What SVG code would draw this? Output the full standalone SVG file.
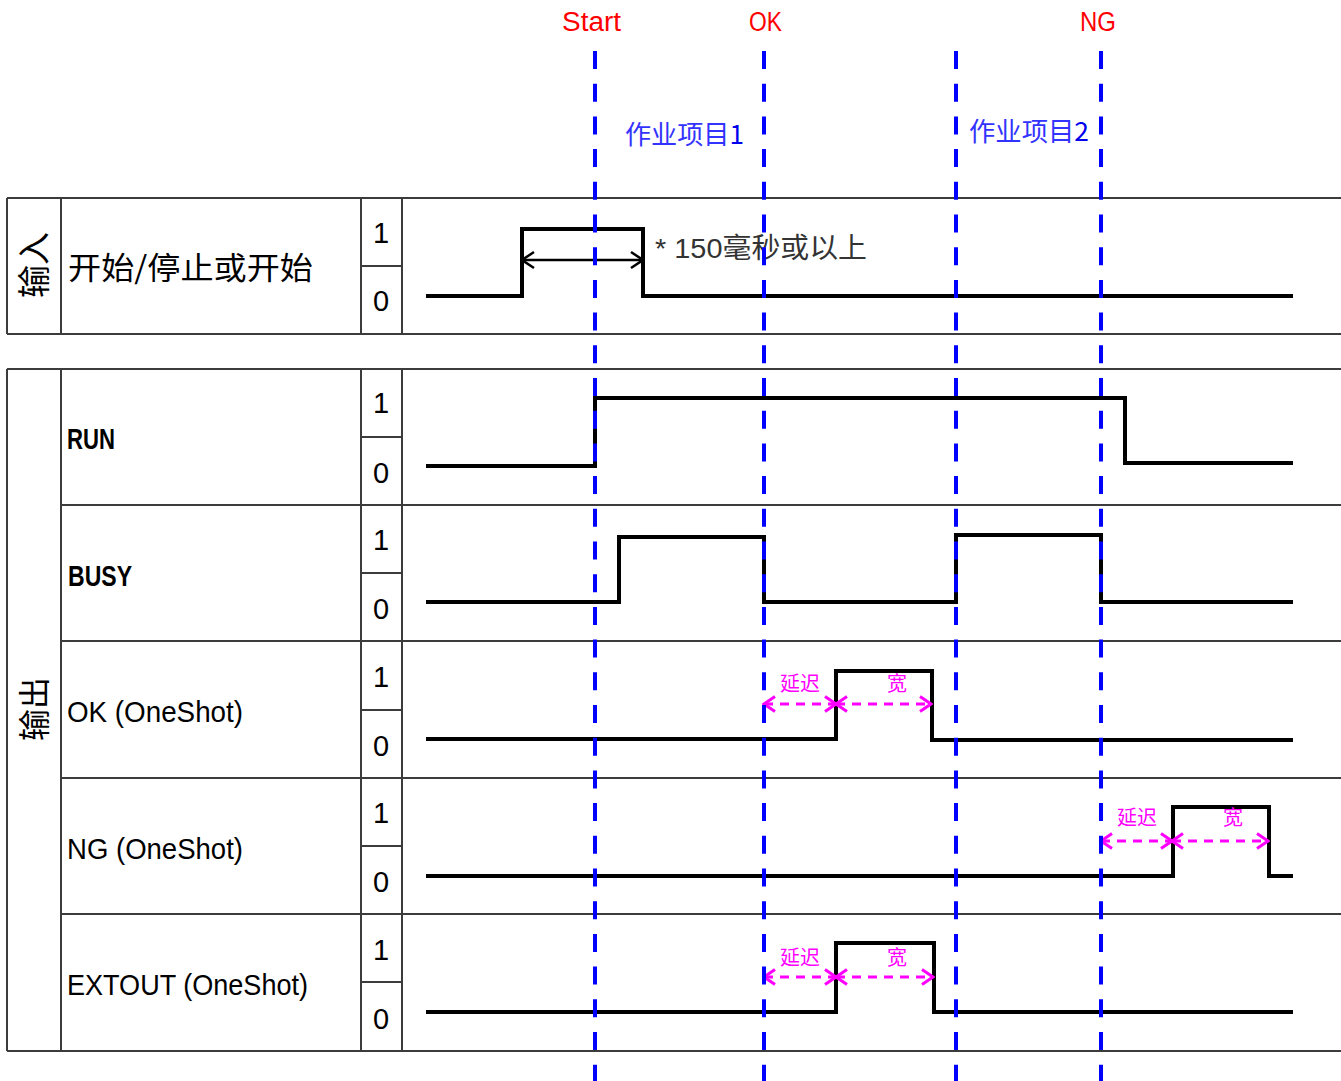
<svg xmlns="http://www.w3.org/2000/svg" width="1341" height="1081" viewBox="0 0 1341 1081">
<style>
.grid{stroke:#3c3c3c;stroke-width:2;fill:none}
.wave{stroke:#000;stroke-width:4;fill:none;stroke-linejoin:miter}
.mark{stroke:#0000ff;stroke-width:4;stroke-dasharray:18 14.7;fill:none}
.dim{stroke:#ff00ff;stroke-width:3;stroke-dasharray:9 7;fill:none;marker-start:url(#mg);marker-end:url(#mg)}
.lbl{font-family:"Liberation Sans","Noto Sans CJK SC",sans-serif;fill:#000}
.cjk{font-family:"Noto Sans CJK SC",sans-serif}
.dig{font-family:"Liberation Sans",sans-serif;font-size:29px;fill:#000;text-anchor:middle}
.red{font-family:"Liberation Sans",sans-serif;font-size:27px;fill:#ff0000}
.task{font-family:"Noto Sans CJK SC",sans-serif;font-size:26px;fill:#3333ff}
.mg{font-family:"Noto Sans CJK SC",sans-serif;font-size:20px;fill:#ff00ff;text-anchor:middle}
</style>
<defs>
<marker id="mg" markerUnits="userSpaceOnUse" viewBox="-14 -10 16 20" refX="0" refY="0" markerWidth="16" markerHeight="20" orient="auto-start-reverse">
<path d="M-11,-7.5 L0,0 L-11,7.5" fill="none" stroke="#ff00ff" stroke-width="3" stroke-dasharray="none"/>
</marker>
<marker id="mb" markerUnits="userSpaceOnUse" viewBox="-14 -10 16 20" refX="0" refY="0" markerWidth="16" markerHeight="20" orient="auto-start-reverse">
<path d="M-12,-8 L0,0 L-12,8" fill="none" stroke="#000" stroke-width="2.5"/>
</marker>
</defs>
<rect width="1341" height="1081" fill="#fff"/>

<g id="top-labels">
<text class="red" x="562" y="31" textLength="59" lengthAdjust="spacingAndGlyphs">Start</text>
<text class="red" x="749" y="31" textLength="33" lengthAdjust="spacingAndGlyphs">OK</text>
<text class="red" x="1080" y="31" textLength="36" lengthAdjust="spacingAndGlyphs">NG</text>
<text class="task" x="625" y="144" textLength="119" lengthAdjust="spacingAndGlyphs">作业项目<tspan fill="#0000ee">1</tspan></text>
<text class="task" x="969" y="141" textLength="120" lengthAdjust="spacingAndGlyphs">作业项目<tspan fill="#0000ee">2</tspan></text>
</g>

<g id="input-table">
<path class="grid" d="M7,198 H1341 M7,334 H1341 M7,198 V334 M61,198 V334 M361,198 V334 M402,198 V334 M361,266 H402"/>
<text class="lbl cjk" font-size="33" transform="translate(32,265) rotate(-90)" text-anchor="middle" dominant-baseline="central">输入</text>
<text class="lbl cjk" font-size="31" x="68" y="279" textLength="245" lengthAdjust="spacingAndGlyphs">开始/停止或开始</text>
<text class="dig" x="381" y="243">1</text>
<text class="dig" x="381" y="311">0</text>
</g>

<g id="output-table">
<path class="grid" d="M7,369 H1341 M7,1051 H1341 M61,505 H1341 M61,641 H1341 M61,778 H1341 M61,914 H1341 M7,369 V1051 M61,369 V1051 M361,369 V1051 M402,369 V1051 M361,437 H402 M361,573 H402 M361,710 H402 M361,846 H402 M361,982 H402"/>
<text class="lbl cjk" font-size="32" transform="translate(32,709) rotate(-90)" text-anchor="middle" dominant-baseline="central">输出</text>
</g>

<g id="row-run">
<text class="lbl" font-size="29" font-weight="bold" x="67" y="449" textLength="48" lengthAdjust="spacingAndGlyphs">RUN</text>
<text class="dig" x="381" y="413">1</text>
<text class="dig" x="381" y="483">0</text>
</g>
<g id="row-busy">
<text class="lbl" font-size="29" font-weight="bold" x="68" y="586" textLength="64" lengthAdjust="spacingAndGlyphs">BUSY</text>
<text class="dig" x="381" y="550">1</text>
<text class="dig" x="381" y="619">0</text>
</g>
<g id="row-ok">
<text class="lbl" font-size="29" x="67" y="722" textLength="176" lengthAdjust="spacingAndGlyphs">OK (OneShot)</text>
<text class="dig" x="381" y="687">1</text>
<text class="dig" x="381" y="756">0</text>
</g>
<g id="row-ng">
<text class="lbl" font-size="29" x="67" y="859" textLength="176" lengthAdjust="spacingAndGlyphs">NG (OneShot)</text>
<text class="dig" x="381" y="823">1</text>
<text class="dig" x="381" y="892">0</text>
</g>
<g id="row-extout">
<text class="lbl" font-size="29" x="67" y="995" textLength="241" lengthAdjust="spacingAndGlyphs">EXTOUT (OneShot)</text>
<text class="dig" x="381" y="960">1</text>
<text class="dig" x="381" y="1029">0</text>
</g>

<g id="waveforms">
<path class="wave" d="M426,296 H522 V229 H643 V296 H1293"/>
<path d="M522,260 H643" fill="none" stroke="#000" stroke-width="2.5" marker-start="url(#mb)" marker-end="url(#mb)"/>
<path class="wave" d="M426,466 H595 V398 H1125 V463 H1293"/>
<path class="wave" d="M426,602 H619 V537 H764 V602 H956 V535 H1101 V602 H1293"/>
<path class="wave" d="M426,739 H836 V671 H932 V740 H1293"/>
<path class="wave" d="M426,876 H1173 V807 H1269 V876 H1293"/>
<path class="wave" d="M426,1012 H836 V943 H934 V1012 H1293"/>
</g>

<g id="annotations">
<text class="lbl" font-size="28" x="655" y="258" textLength="212" lengthAdjust="spacingAndGlyphs" style="fill:#333">* 150毫秒或以上</text>
<path class="dim" d="M764,704 H836"/>
<path class="dim" d="M836,704 H931"/>
<text class="mg" x="800" y="691">延迟</text>
<text class="mg" x="897" y="691">宽</text>
<path class="dim" d="M1101,841 H1172"/>
<path class="dim" d="M1172,841 H1268"/>
<text class="mg" x="1137" y="825">延迟</text>
<text class="mg" x="1233" y="825">宽</text>
<path class="dim" d="M764,977 H836"/>
<path class="dim" d="M836,977 H933"/>
<text class="mg" x="800" y="965">延迟</text>
<text class="mg" x="897" y="965">宽</text>
</g>

<g id="event-lines">
<path class="mark" d="M595,51 V1081 M764,51 V1081 M956,51 V1081 M1101,51 V1081"/>
</g>
</svg>
